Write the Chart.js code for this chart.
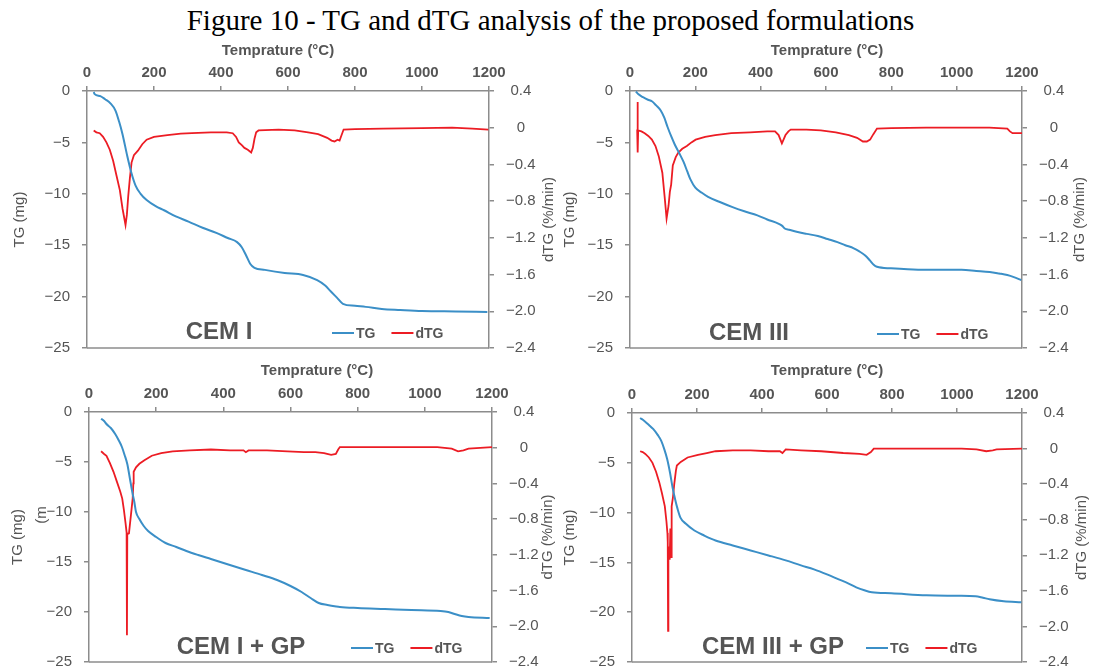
<!DOCTYPE html>
<html>
<head>
<meta charset="utf-8">
<script src="https://cdn.jsdelivr.net/npm/chart.js@4.4.0/dist/chart.umd.min.js"></script>
<style>
  body { margin: 0; background: #fff; width: 1093px; height: 669px; position: relative; overflow: hidden; }
  #title { position: absolute; left: 4px; top: 6px; width: 1093px; text-align: center;
           font: 29px/1 "Liberation Serif", "Times New Roman", serif; color: #000; }
  canvas.panel { position: absolute; }
</style>
</head>
<body>
<div id="title">Figure 10 - TG and dTG analysis of the proposed formulations</div>
<canvas id="p1" class="panel"></canvas>
<canvas id="p2" class="panel"></canvas>
<canvas id="p3" class="panel"></canvas>
<canvas id="p4" class="panel"></canvas>
<script>
// axis ticks
var tempTicks = [0, 200, 400, 600, 800, 1000, 1200];
var tgTicks   = [0, -5, -10, -15, -20, -25];
var dtgTicks  = [0.4, 0, -0.4, -0.8, -1.2, -1.6, -2.0, -2.4];

// CEM I
var cem1TgTemp = [20, 23, 40, 54, 70, 85, 96, 106, 120, 132, 145, 160, 178, 205, 230, 265, 303, 345, 386, 420, 448, 462, 475, 487, 500, 531, 590, 645, 687, 710, 728, 746, 764, 800, 832, 880, 935, 1000, 1100, 1195];
var cem1Tg     = [-0.1, -0.3, -0.5, -0.8, -1.2, -1.9, -3.0, -4.2, -6.3, -7.9, -9.2, -10.0, -10.6, -11.2, -11.6, -12.2, -12.7, -13.3, -13.8, -14.3, -14.7, -15.2, -16.0, -16.8, -17.2, -17.4, -17.7, -17.9, -18.4, -18.9, -19.5, -20.1, -20.7, -20.9, -21.0, -21.2, -21.3, -21.4, -21.45, -21.5];
var cem1DtgTemp = [20, 28, 38, 48, 58, 68, 78, 88, 98, 106, 115, 119, 123, 128, 133, 140, 152, 165, 178, 200, 240, 280, 313, 370, 417, 435, 445, 453, 462, 470, 480, 490, 495, 500, 505, 512, 572, 620, 660, 690, 717, 730, 739, 748, 754, 760, 766, 800, 884, 1000, 1090, 1150, 1198];
var cem1Dtg     = [-0.03, -0.05, -0.06, -0.1, -0.16, -0.24, -0.36, -0.52, -0.68, -0.88, -1.06, -0.95, -0.75, -0.55, -0.38, -0.3, -0.25, -0.18, -0.13, -0.1, -0.08, -0.065, -0.06, -0.05, -0.05, -0.06, -0.1, -0.16, -0.19, -0.22, -0.24, -0.27, -0.22, -0.12, -0.05, -0.03, -0.02, -0.03, -0.05, -0.07, -0.11, -0.14, -0.15, -0.13, -0.14, -0.08, -0.02, -0.015, -0.01, -0.005, 0, -0.01, -0.02];

// CEM III
var cem3TgTemp = [18, 25, 40, 55, 67, 80, 94, 105, 115, 126, 137, 150, 164, 175, 185, 200, 220, 239, 275, 314, 350, 390, 420, 454, 465, 475, 487, 510, 541, 575, 605, 635, 659, 685, 702, 720, 735, 746, 756, 799, 850, 907, 1015, 1060, 1101, 1130, 1155, 1175, 1198];
var cem3Tg     = [-0.05, -0.3, -0.6, -0.85, -1.0, -1.4, -1.9, -2.6, -3.5, -4.4, -5.2, -6.0, -6.9, -7.8, -8.6, -9.4, -9.9, -10.3, -10.8, -11.3, -11.7, -12.1, -12.5, -12.9, -13.1, -13.4, -13.5, -13.7, -13.9, -14.1, -14.4, -14.7, -15.0, -15.3, -15.6, -16.0, -16.5, -16.9, -17.1, -17.25, -17.35, -17.4, -17.4, -17.5, -17.6, -17.75, -17.9, -18.1, -18.4];
var cem3DtgTemp = [22, 23, 24, 25, 35, 45, 56, 67, 78, 88, 99, 106, 112, 118, 122, 126, 131, 140, 148, 160, 174, 188, 201, 230, 261, 310, 368, 420, 444, 455, 465, 470, 476, 485, 492, 540, 584, 630, 670, 695, 713, 725, 735, 745, 756, 800, 907, 1000, 1100, 1155, 1163, 1171, 1200];
var cem3Dtg     = [-0.02, 0.28, -0.27, -0.03, -0.04, -0.06, -0.09, -0.13, -0.2, -0.31, -0.49, -0.75, -0.99, -0.85, -0.7, -0.62, -0.41, -0.32, -0.27, -0.23, -0.2, -0.16, -0.13, -0.1, -0.08, -0.06, -0.05, -0.04, -0.04, -0.08, -0.17, -0.13, -0.08, -0.04, -0.02, -0.02, -0.03, -0.05, -0.08, -0.11, -0.15, -0.15, -0.13, -0.07, -0.01, -0.005, 0, 0, 0, -0.01, -0.04, -0.06, -0.06];

// CEM I + GP
var cem1gpTgTemp = [36, 45, 52, 65, 78, 88, 98, 106, 114, 122, 130, 135, 140, 150, 163, 176, 200, 228, 260, 290, 325, 363, 410, 467, 515, 560, 600, 633, 660, 684, 710, 736, 747, 800, 881, 960, 1047, 1070, 1089, 1110, 1130, 1193];
var cem1gpTg     = [-0.67, -0.9, -1.2, -1.6, -2.2, -2.8, -3.5, -4.3, -5.2, -6.7, -8.2, -9.0, -10.0, -10.7, -11.4, -11.9, -12.5, -13.1, -13.5, -13.9, -14.3, -14.7, -15.2, -15.8, -16.3, -16.8, -17.4, -18.0, -18.6, -19.1, -19.3, -19.45, -19.5, -19.6, -19.7, -19.8, -19.9, -20.0, -20.2, -20.4, -20.5, -20.6];
var cem1gpDtgTemp = [36, 45, 52, 62, 73, 83, 93, 99, 104, 109, 112, 113, 114, 119, 125, 130, 132, 133, 140, 150, 165, 187, 215, 249, 300, 363, 420, 460, 467, 475, 530, 591, 640, 674, 700, 721, 735, 742, 747, 800, 881, 1037, 1080, 1099, 1115, 1130, 1200];
var cem1gpDtg     = [-0.04, -0.07, -0.09, -0.17, -0.27, -0.38, -0.49, -0.57, -0.7, -0.85, -0.95, -2.1, -0.97, -0.96, -0.75, -0.57, -0.4, -0.27, -0.22, -0.18, -0.14, -0.09, -0.06, -0.04, -0.03, -0.02, -0.03, -0.03, -0.05, -0.03, -0.03, -0.04, -0.05, -0.05, -0.06, -0.08, -0.07, -0.02, 0.007, 0.007, 0.007, 0.007, -0.01, -0.04, -0.03, -0.01, 0.007];

// CEM III + GP
var cem3gpTgTemp = [25, 38, 52, 65, 79, 90, 100, 108, 117, 125, 133, 140, 149, 165, 192, 222, 257, 310, 365, 420, 473, 520, 560, 600, 636, 665, 690, 715, 738, 798, 906, 1000, 1057, 1080, 1100, 1144, 1198];
var cem3gpTg     = [-0.5, -0.8, -1.2, -1.6, -2.2, -2.8, -3.7, -4.6, -6.0, -7.5, -8.7, -9.6, -10.5, -11.1, -11.8, -12.3, -12.8, -13.3, -13.8, -14.3, -14.8, -15.3, -15.7, -16.2, -16.7, -17.1, -17.5, -17.8, -18.0, -18.1, -18.3, -18.35, -18.4, -18.55, -18.7, -18.9, -19.0];
var cem3gpDtgTemp = [25, 33, 41, 52, 63, 74, 84, 92, 101, 106, 109, 110, 111, 112, 116, 118, 120, 122, 126, 130, 135, 138, 150, 171, 203, 230, 257, 310, 365, 420, 455, 463, 473, 520, 582, 650, 700, 722, 735, 744, 800, 900, 1014, 1060, 1090, 1110, 1122, 1200];
var cem3gpDtg     = [-0.03, -0.04, -0.06, -0.1, -0.16, -0.26, -0.38, -0.5, -0.65, -0.82, -0.95, -1.05, -2.05, -1.1, -1.25, -0.9, -1.22, -0.65, -0.55, -0.4, -0.25, -0.19, -0.15, -0.1, -0.07, -0.05, -0.03, -0.02, -0.02, -0.03, -0.03, -0.05, -0.01, -0.02, -0.03, -0.05, -0.06, -0.07, -0.04, 0, 0, 0, 0, -0.01, -0.03, -0.02, -0.01, 0];

var tgColor = '#3b8fc7';
var dtgColor = '#ec1c24';
var axisColor = '#8c8c8c';
var textColor = '#555555';
var sans = '"Liberation Sans", Arial, sans-serif';

Chart.defaults.font.family = sans;
Chart.defaults.color = textColor;

// canvas box and plot rectangle are page coordinates
var panels = [
  { id: 'p1', name: 'CEM I', box: [0, 40, 565, 330], plot: [87, 91, 489, 348],
    leftTitleX: 20, rightTitleX: 549, xTitleX: 278, xTitleY: 51, labelX: 219, labelY: 332, legendX: 332, legendY: 333,
    tgT: cem1TgTemp, tg: cem1Tg, dT: cem1DtgTemp, d: cem1Dtg },
  { id: 'p2', name: 'CEM III', box: [540, 40, 553, 330], plot: [630, 91, 1022, 348],
    leftTitleX: 570, rightTitleX: 1080, xTitleX: 827, xTitleY: 51, labelX: 749, labelY: 333, legendX: 877, legendY: 334,
    tgT: cem3TgTemp, tg: cem3Tg, dT: cem3DtgTemp, d: cem3Dtg },
  { id: 'p3', name: 'CEM I + GP', box: [0, 360, 565, 330], plot: [89, 412, 492, 662],
    leftTitleX: 18, rightTitleX: 548, xTitleX: 317, xTitleY: 371, labelX: 241, labelY: 647, legendX: 351, legendY: 648,
    tgT: cem1gpTgTemp, tg: cem1gpTg, dT: cem1gpDtgTemp, d: cem1gpDtg, stray: [42, 515, '(m'] },
  { id: 'p4', name: 'CEM III + GP', box: [540, 360, 553, 330], plot: [632, 413, 1022, 662],
    leftTitleX: 570, rightTitleX: 1082, xTitleX: 827, xTitleY: 371, labelX: 773, labelY: 647, legendX: 866, legendY: 648,
    tgT: cem3gpTgTemp, tg: cem3gpTg, dT: cem3gpDtgTemp, d: cem3gpDtg }
];

function points(xs, ys) {
  return xs.map(function(x, i) { return { x: x, y: ys[i] }; });
}

function fmt(v, digits) {
  if (Math.abs(v) < 1e-9) return '0';
  var s = Math.abs(v).toFixed(digits);
  return (v < 0 ? '\u2212' : '') + s;
}

function decoPlugin(p) {
  return {
    id: 'deco',
    afterDraw: function(chart) {
      var ctx = chart.ctx, a = chart.chartArea;
      var ox = p.box[0], oy = p.box[1];
      ctx.save();
      // close the frame along the bottom
      ctx.strokeStyle = axisColor;
      ctx.lineWidth = 1.5;
      ctx.beginPath();
      ctx.moveTo(a.left, a.bottom);
      ctx.lineTo(a.right, a.bottom);
      ctx.stroke();

      ctx.fillStyle = textColor;
      ctx.textAlign = 'center';
      ctx.textBaseline = 'middle';

      // temperature axis title
      ctx.font = 'bold 15px ' + sans;
      ctx.fillText('Temprature (\u00b0C)', p.xTitleX - ox, p.xTitleY - oy);

      // right axis title, reading upward
      ctx.save();
      ctx.font = '15px ' + sans;
      ctx.translate(p.rightTitleX - ox, (a.top + a.bottom) / 2);
      ctx.rotate(-Math.PI / 2);
      ctx.fillText('dTG (%/min)', 0, 0);
      ctx.restore();

      if (p.stray) {
        ctx.save();
        ctx.font = '15px ' + sans;
        ctx.translate(p.stray[0] - ox, p.stray[1] - oy);
        ctx.rotate(-Math.PI / 2);
        ctx.fillText(p.stray[2], 0, 0);
        ctx.restore();
      }

      // sample name
      ctx.font = 'bold 24px ' + sans;
      ctx.fillText(p.name, p.labelX - ox, p.labelY - oy);

      // legend
      ctx.font = 'bold 14px ' + sans;
      ctx.textAlign = 'left';
      var x = p.legendX - ox, y = p.legendY - oy;
      chart.data.datasets.forEach(function(ds) {
        ctx.strokeStyle = ds.borderColor;
        ctx.lineWidth = 2;
        ctx.beginPath();
        ctx.moveTo(x, y);
        ctx.lineTo(x + 22, y);
        ctx.stroke();
        ctx.fillStyle = textColor;
        ctx.fillText(ds.label, x + 24, y + 1);
        x += 24 + ctx.measureText(ds.label).width + 16;
      });
      ctx.restore();
    }
  };
}

function makeChart(p) {
  var cx = p.box[0], cy = p.box[1], cw = p.box[2], ch = p.box[3];
  var L = p.plot[0] - cx, T = p.plot[1] - cy, R = p.plot[2] - cx, B = p.plot[3] - cy;
  var padLeft = p.leftTitleX - cx - 9;
  var padRight = 2;
  var padBottom = ch - B;

  var canvas = document.getElementById(p.id);
  canvas.width = cw;
  canvas.height = ch;
  canvas.style.left = cx + 'px';
  canvas.style.top = cy + 'px';

  var grid = { drawOnChartArea: false, drawTicks: true, tickLength: 5, color: axisColor, lineWidth: 1.5 };
  var border = { display: true, color: axisColor, width: 1.5 };

  return new Chart(canvas, {
    type: 'line',
    data: {
      datasets: [{
        label: 'TG',
        data: points(p.tgT, p.tg),
        yAxisID: 'yL',
        borderColor: tgColor,
        borderWidth: 2,
        pointRadius: 0,
        cubicInterpolationMode: 'monotone'
      }, {
        label: 'dTG',
        data: points(p.dT, p.d),
        yAxisID: 'yR',
        borderColor: dtgColor,
        borderWidth: 1.8,
        pointRadius: 0,
        tension: 0
      }]
    },
    options: {
      responsive: false,
      animation: false,
      layout: { autoPadding: false, padding: { left: padLeft, right: padRight, top: 0, bottom: padBottom } },
      plugins: { legend: { display: false }, tooltip: { enabled: false } },
      scales: {
        x: {
          type: 'linear', position: 'top', min: 0, max: 1200,
          afterBuildTicks: function(s) { s.ticks = tempTicks.map(function(v) { return { value: v }; }); },
          afterFit: function(s) { s.height = T; },
          grid: grid, border: border,
          ticks: { padding: 4, maxRotation: 0, color: textColor, font: { size: 15, weight: 'bold' },
                   callback: function(v) { return String(v); } }
        },
        yL: {
          type: 'linear', position: 'left', min: -25, max: 0,
          afterBuildTicks: function(s) { s.ticks = tgTicks.map(function(v) { return { value: v }; }); },
          afterFit: function(s) { s.width = L - padLeft; },
          grid: grid, border: border,
          ticks: { padding: 12, color: textColor, font: { size: 15 }, callback: function(v) { return fmt(v, 0); } },
          title: { display: true, text: 'TG (mg)', padding: 0, color: textColor, font: { size: 15 } }
        },
        yR: {
          type: 'linear', position: 'right', min: -2.4, max: 0.4,
          afterBuildTicks: function(s) { s.ticks = dtgTicks.map(function(v) { return { value: v }; }); },
          afterFit: function(s) { s.width = cw - padRight - R; },
          grid: grid, border: border,
          ticks: { padding: 12, crossAlign: 'center', color: textColor, font: { size: 15 },
                   callback: function(v) { return fmt(v, 1); } }
        }
      }
    },
    plugins: [decoPlugin(p)]
  });
}

panels.forEach(makeChart);
</script>
</body>
</html>
